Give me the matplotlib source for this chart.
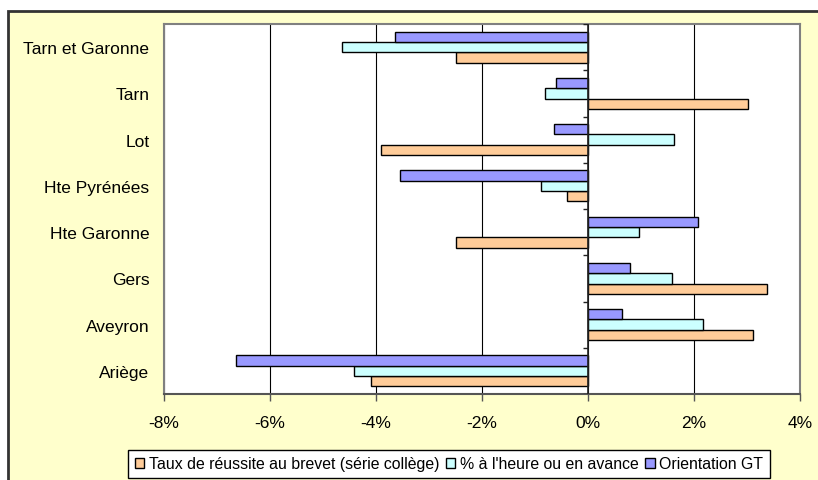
import matplotlib
matplotlib.use("Agg")
import matplotlib.pyplot as plt
from matplotlib.patches import Rectangle
from matplotlib.ticker import FuncFormatter, MultipleLocator
import numpy as np

plt.rcParams["font.family"] = ["Liberation Sans", "DejaVu Sans"]

# categories bottom to top
departements = ["Ariège", "Aveyron", "Gers", "Hte Garonne", "Hte Pyrénées",
                "Lot", "Tarn", "Tarn et Garonne"]
taux_brevet = [-4.10, 3.11, 3.38, -2.50, -0.40, -3.90, 3.01, -2.50]
a_l_heure = [-4.41, 2.17, 1.58, 0.96, -0.89, 1.63, -0.82, -4.64]
orientation_gt = [-6.65, 0.64, 0.80, 2.07, -3.54, -0.64, -0.60, -3.64]

series = [
    ("Taux de réussite au brevet (série collège)", taux_brevet, "#FFCC99"),
    ("% à l'heure ou en avance", a_l_heure, "#CCFFFF"),
    ("Orientation GT", orientation_gt, "#9999FF"),
]

W, H = 818, 481
fig = plt.figure(figsize=(W / 100, H / 100), dpi=100)
fig.patch.set_facecolor("white")

# outer chart frame
frame = Rectangle((8 / W, -0.05), 1.1, (H - 12) / H + 0.05, transform=fig.transFigure,
                  facecolor="#FFFFCC", edgecolor="#333333", linewidth=2, zorder=-10)
fig.patches.append(frame)

ax = fig.add_axes([164 / W, 1 - 395 / H, (800 - 164) / W, (395 - 25) / H])
ax.set_zorder(1)
ax.set_facecolor("white")

y = np.arange(len(departements))
h = 0.223
offsets = [-h, 0, h]
for (label, vals, color), off in zip(series, offsets):
    ax.barh(y + off, vals, height=h, color=color, edgecolor="black",
            linewidth=1, label=label, zorder=3)

ax.set_xlim(-8, 4)
ax.set_ylim(-0.5, len(departements) - 0.5)
ax.xaxis.set_major_locator(MultipleLocator(2))
ax.xaxis.set_major_formatter(FuncFormatter(lambda v, p: f"{v:.0f}%"))
ax.grid(axis="x", color="black", linewidth=0.8, zorder=1)
ax.tick_params(axis="x", length=5, width=1, color="#555555", labelsize=12.5, pad=10)

ax.set_yticks(y)
ax.set_yticklabels(departements, fontsize=12.5)
ax.tick_params(axis="y", length=0, pad=10.5)

# category axis at 0 with small ticks between groups
ax.axvline(0, color="#222222", linewidth=1.2, zorder=4)
bounds = np.arange(len(departements) + 1) - 0.5
ax.hlines(bounds, -0.1, 0, color="#222222", linewidth=1, zorder=4)

for s in ax.spines.values():
    s.set_color("#808080")
    s.set_linewidth(1.5)
ax.spines["bottom"].set_color("#555555")

leg = ax.legend(loc="upper center", bbox_to_anchor=(449 / W, 1 - 451 / H),
                bbox_transform=fig.transFigure, ncol=3, fontsize=11.4,
                frameon=True, fancybox=False, handlelength=0.6, handleheight=0.6,
                handletextpad=0.3, columnspacing=0.4, borderpad=0.4,
                borderaxespad=0)
leg.get_frame().set_edgecolor("black")
leg.get_frame().set_facecolor("white")
leg.get_frame().set_alpha(1)
leg.get_frame().set_linewidth(1)

fig.savefig("out.png", dpi=100)
